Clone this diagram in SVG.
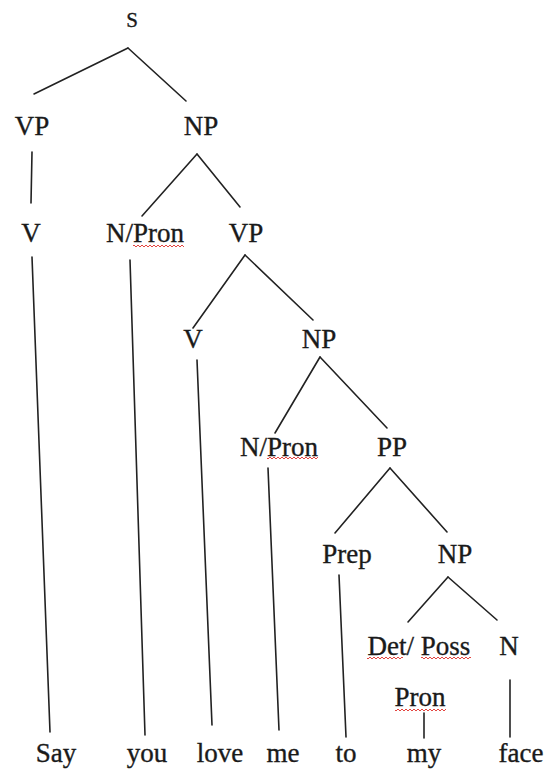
<svg xmlns="http://www.w3.org/2000/svg" width="545" height="771" viewBox="0 0 545 771">
<style>
.t text{font-family:'Liberation Serif','DejaVu Serif',serif;font-size:27px;fill:#1a1a1a;stroke:#1a1a1a;stroke-width:0.35;text-anchor:middle}
.e line{stroke:#222;stroke-width:1.6;stroke-linecap:round}
</style>
<defs>
<pattern id="wave" patternUnits="userSpaceOnUse" width="4" height="4">
<path d="M0,3 L2,1 L4,3" fill="none" stroke="#e0302a" stroke-width="0.9"/>
</pattern>
</defs>
<rect width="545" height="771" fill="#fff"/>
<g class="e" id="connectors">
<line x1="128" y1="48" x2="34" y2="94"/>
<line x1="128" y1="48" x2="186" y2="101"/>
<line x1="32" y1="152" x2="31" y2="203"/>
<line x1="197" y1="154" x2="142" y2="216"/>
<line x1="197" y1="154" x2="240" y2="207"/>
<line x1="32" y1="257" x2="50" y2="732"/>
<line x1="130" y1="260" x2="145" y2="735"/>
<line x1="245" y1="255" x2="193" y2="328"/>
<line x1="245" y1="255" x2="313" y2="320"/>
<line x1="197" y1="360" x2="212" y2="725"/>
<line x1="320" y1="357" x2="275" y2="433"/>
<line x1="320" y1="357" x2="387" y2="428"/>
<line x1="268" y1="468" x2="279" y2="730"/>
<line x1="390" y1="468" x2="335" y2="533"/>
<line x1="390" y1="468" x2="447" y2="532"/>
<line x1="339" y1="575" x2="346" y2="737"/>
<line x1="448" y1="577" x2="408" y2="622"/>
<line x1="448" y1="577" x2="497" y2="620"/>
<line x1="424" y1="713" x2="424" y2="738"/>
<line x1="510" y1="680" x2="510" y2="737"/>
</g>
<g class="t" font-family="Liberation Serif, DejaVu Serif, serif" font-size="27" text-anchor="middle">
<g id="n-S"><text x="132" y="27" font-size="21" style="font-size:21px">S</text></g>
<g id="n-VP1"><text x="32" y="135">VP</text></g>
<g id="n-NP1"><text x="201" y="135">NP</text></g>
<g id="n-V1"><text x="31" y="242">V</text></g>
<g id="n-NPron1"><text x="145" y="242">N/Pron</text><rect x="133" y="243" width="51" height="4" fill="url(#wave)" stroke="none"/></g>
<g id="n-VP2"><text x="246" y="242">VP</text></g>
<g id="n-V2"><text x="193" y="348">V</text></g>
<g id="n-NP2"><text x="319" y="348">NP</text></g>
<g id="n-NPron2"><text x="279" y="456">N/Pron</text><rect x="267" y="457" width="51" height="4" fill="url(#wave)"/></g>
<g id="n-PP"><text x="392" y="456">PP</text></g>
<g id="n-Prep"><text x="347" y="563">Prep</text></g>
<g id="n-NP3"><text x="455" y="563">NP</text></g>
<g id="n-Det"><text x="419" y="655">Det/ Poss</text><rect x="367" y="657" width="36" height="4" fill="url(#wave)"/><rect x="421" y="657" width="50" height="4" fill="url(#wave)"/></g>
<g id="n-N"><text x="509" y="655">N</text></g>
<g id="n-Pron"><text x="420" y="706">Pron</text><rect x="395" y="708" width="51" height="4" fill="url(#wave)"/></g>
<g id="words">
<text x="56" y="762">Say</text>
<text x="147" y="762">you</text>
<text x="220" y="762">love</text>
<text x="283" y="762">me</text>
<text x="346" y="762">to</text>
<text x="424" y="762">my</text>
<text x="521" y="762">face</text>
</g>
</g>
</svg>
